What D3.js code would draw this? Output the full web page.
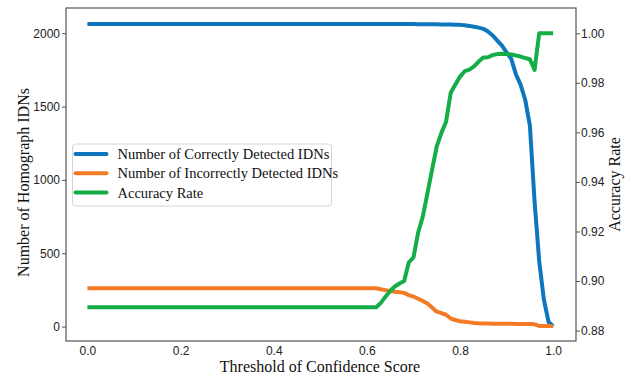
<!DOCTYPE html>
<html>
<head>
<meta charset="utf-8">
<script src="https://cdn.jsdelivr.net/npm/d3@7"></script>
<style>
  html, body { margin: 0; padding: 0; background: #fff; }
  svg { display: block; }
  .tick text { font-family: "Liberation Sans", Arial, sans-serif; font-size: 12px; fill: #222; }
  .axis-label, .legend-text { font-family: "Liberation Serif", "Times New Roman", serif; fill: #111; }
</style>
</head>
<body>
<div id="chart"></div>
<script>
// thresholds (flat part is straight, so sparse there)
const thresholds = [0.0, 0.1, 0.2, 0.3, 0.4, 0.5, 0.6, 0.61, 0.62, 0.63, 0.64, 0.65, 0.66, 0.67, 0.68, 0.69,
  0.70, 0.71, 0.72, 0.73, 0.74, 0.75, 0.76, 0.77, 0.78, 0.79, 0.80, 0.81, 0.82, 0.83, 0.84, 0.85, 0.86,
  0.87, 0.88, 0.89, 0.90, 0.91, 0.92, 0.93, 0.94, 0.95, 0.96, 0.97, 0.98, 0.99, 1.00];

const correct = [2063, 2063, 2063, 2063, 2063, 2063, 2063, 2063, 2063, 2063, 2063, 2063, 2063, 2063, 2063, 2063,
  2063, 2062, 2062, 2062, 2061, 2061, 2060, 2060, 2059, 2058, 2057, 2054, 2050, 2044, 2038, 2030, 2012,
  1985, 1950, 1915, 1870, 1825, 1720, 1650, 1545, 1370, 855, 445, 185, 32, 3];

const incorrect = [262, 262, 262, 262, 262, 262, 262, 262, 262, 255, 249, 243, 238, 234, 230, 215,
  205, 190, 175, 158, 130, 102, 92, 81, 55, 45, 37, 33, 29, 25, 23, 22, 21,
  20, 20, 19, 19, 19, 18, 18, 18, 18, 16, 5, 5, 5, 5];

const accuracy = [0.8894, 0.8894, 0.8894, 0.8894, 0.8894, 0.8894, 0.8894, 0.8894, 0.8894, 0.8912, 0.8937, 0.8960, 0.8978, 0.8990, 0.9000, 0.9075,
  0.9095, 0.9195, 0.9260, 0.9354, 0.9450, 0.9543, 0.9598, 0.9643, 0.9760, 0.9793, 0.9825, 0.9847, 0.9853, 0.9866, 0.9886, 0.9902, 0.9903,
  0.9912, 0.9916, 0.9917, 0.9916, 0.9914, 0.9910, 0.9906, 0.9900, 0.9895, 0.9852, 1.0, 1.0, 1.0, 1.0];

const xTicks = [0, 0.2, 0.4, 0.6, 0.8, 1.0];
const leftTicks = [0, 500, 1000, 1500, 2000];
const rightTicks = [0.88, 0.90, 0.92, 0.94, 0.96, 0.98, 1.00];

const seriesNames = ['Number of Correctly Detected IDNs', 'Number of Incorrectly Detected IDNs', 'Accuracy Rate'];
const colors = ['#0e76bd', '#f47b26', '#14ad47'];

const width = 629, height = 376;
const margin = { top: 8, right: 53, bottom: 35, left: 66 };
const innerW = width - margin.left - margin.right;
const innerH = height - margin.top - margin.bottom;

const svg = d3.select('#chart').append('svg')
  .attr('width', width)
  .attr('height', height);

const g = svg.append('g').attr('transform', `translate(${margin.left},${margin.top})`);

const x = d3.scaleLinear().domain([-0.046, 1.049]).range([0, innerW]);
const yL = d3.scaleLinear().domain([-98, 2172]).range([innerH, 0]);
const yR = d3.scaleLinear().domain([0.8758, 1.0102]).range([innerH, 0]);

const frameColor = '#555';

// left axis
const axL = g.append('g')
  .call(d3.axisLeft(yL).tickValues(leftTicks).tickSize(4).tickPadding(2).tickFormat(d3.format('d')));
axL.select('.domain').remove();
axL.selectAll('.tick line').attr('stroke', frameColor);

// right axis
const axR = g.append('g')
  .attr('transform', `translate(${innerW},0)`)
  .call(d3.axisRight(yR).tickValues(rightTicks).tickSize(4).tickPadding(1).tickFormat(d3.format('.2f')));
axR.select('.domain').remove();
axR.selectAll('.tick line').attr('stroke', frameColor);

// bottom axis (labels only)
const axB = g.append('g')
  .attr('transform', `translate(0,${innerH})`)
  .call(d3.axisBottom(x).tickValues(xTicks).tickSize(0).tickPadding(5).tickFormat(d3.format('.1f')));
axB.select('.domain').remove();

// lines
const lineL = vals => d3.line()
  .x((d, i) => x(thresholds[i]))
  .y(d => yL(d))(vals);
const lineR = d3.line()
  .x((d, i) => x(thresholds[i]))
  .y(d => yR(d));

const lines = g.append('g')
  .attr('fill', 'none')
  .attr('stroke-width', 4)
  .attr('stroke-linejoin', 'round')
  .attr('stroke-linecap', 'butt');

lines.append('path').attr('d', lineL(correct)).attr('stroke', colors[0]);
lines.append('path').attr('d', lineL(incorrect)).attr('stroke', colors[1]);
lines.append('path').attr('d', lineR(accuracy)).attr('stroke', colors[2]);

// frame
g.append('rect')
  .attr('width', innerW)
  .attr('height', innerH)
  .attr('fill', 'none')
  .attr('stroke', frameColor)
  .attr('stroke-width', 1.2);

// axis labels
svg.append('text')
  .attr('class', 'axis-label')
  .attr('x', margin.left + innerW / 2 - 1)
  .attr('y', 372)
  .attr('text-anchor', 'middle')
  .style('font-size', '16px')
  .text('Threshold of Confidence Score');

svg.append('text')
  .attr('class', 'axis-label')
  .attr('transform', `translate(29,${margin.top + innerH / 2 + 8}) rotate(-90)`)
  .attr('text-anchor', 'middle')
  .style('font-size', '16px')
  .text('Number of Homograph IDNs');

svg.append('text')
  .attr('class', 'axis-label')
  .attr('transform', `translate(620,${margin.top + innerH / 2 + 10}) rotate(-90)`)
  .attr('text-anchor', 'middle')
  .style('font-size', '16px')
  .text('Accuracy Rate');

// legend
const legend = svg.append('g').attr('transform', 'translate(72.5,144)');
legend.append('rect')
  .attr('width', 259)
  .attr('height', 62)
  .attr('rx', 3)
  .attr('fill', 'rgba(255,255,255,0.8)')
  .attr('stroke', '#d6d6d6');

seriesNames.forEach((name, i) => {
  const row = legend.append('g').attr('transform', `translate(0,${10 + i * 19.3})`);
  row.append('line')
    .attr('x1', 3).attr('x2', 34)
    .attr('stroke', colors[i])
    .attr('stroke-width', 4)
    .attr('stroke-linecap', 'round');
  row.append('text')
    .attr('class', 'legend-text')
    .attr('x', 45)
    .attr('y', 5)
    .style('font-size', '14.5px')
    .text(name);
});
</script>
</body>
</html>
